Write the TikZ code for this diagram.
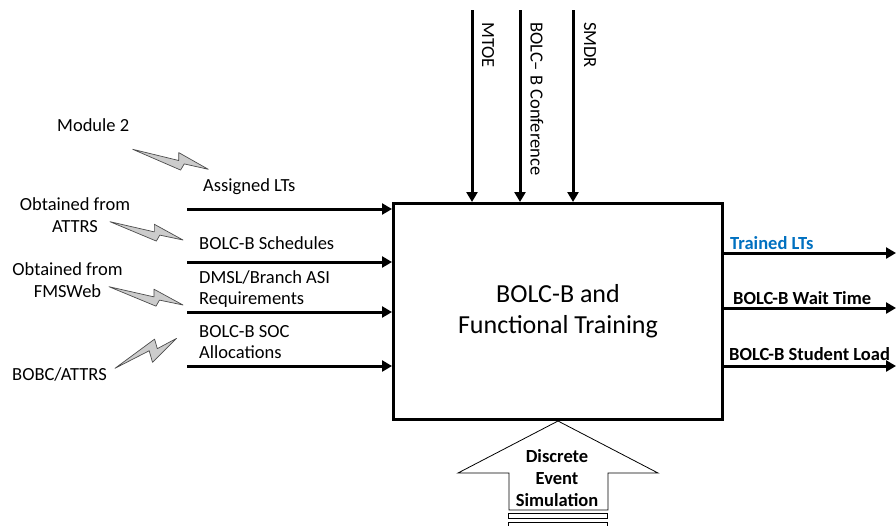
\documentclass[tikz,border=0pt]{standalone}
\usepackage{fontspec}
\setmainfont{Carlito}
\usetikzlibrary{arrows.meta,calc}
\definecolor{outblue}{HTML}{0070C0}

% zig-zag "lightning" link drawn from #1 to #2 with pic #3
\newcommand\zapline[3]{%
  \path let \p1=($(#2)-(#1)$), \n1={atan2(\y1,\x1)}, \n2={veclen(\x1,\y1)}
    in (#1) pic[rotate=\n1, scale=\n2] {#3};}

\begin{document}
\begin{tikzpicture}[x=1pt, y=1pt,
  lbl/.style={inner sep=0pt, font=\fontsize{18.5}{21.5}\selectfont, align=left},
  clbl/.style={lbl, align=center},
  blbl/.style={inner sep=0pt, font=\fontsize{18.5}{22}\selectfont\bfseries, align=center},
  arr/.style={line width=3pt, -{Triangle[length=10pt,width=11pt]}},
  zapfill/.style={fill=gray!40, draw=black!70, line width=0.7pt, line join=round},
  pics/zapA/.style={code={
    \filldraw[zapfill] (0,0) -- (0.66,-0.10) -- (0.685,-0.012) -- (1,0)
      -- (0.58,0.11) -- (0.605,0.012) -- cycle;}},
  pics/zapB/.style={code={
    \filldraw[zapfill] (0,0) -- (0.705,0.13) -- (0.68,-0.012) -- (1,0)
      -- (0.53,-0.16) -- (0.56,0.012) -- cycle;}},
  procbox/.style={draw, line width=3pt, minimum width=329pt, minimum height=216pt,
    inner sep=0pt, font=\fontsize{26}{31}\selectfont, align=center},
  mech/.style={draw, line width=0.8pt, line join=miter},
]
\useasboundingbox (0,0) rectangle (896,-525);

% main activity box
\node[procbox] (box) at (558,-311.5) {BOLC-B and\\Functional Training};

% controls (top)
\coordinate (c1) at (472,-10);
\coordinate (c2) at (520,-10);
\coordinate (c3) at (573,-10);
\draw[arr] (c1) -- (c1 |- box.north);
\draw[arr] (c2) -- (c2 |- box.north);
\draw[arr] (c3) -- (c3 |- box.north);
\node[lbl, rotate=-90, anchor=west] (lc1) at (488,-22) {MTOE};
\node[lbl, rotate=-90, anchor=west] (lc2) at (537,-22) {BOLC– B Conference};
\node[lbl, rotate=-90, anchor=west] (lc3) at (590,-22) {SMDR};

% inputs (left)
\coordinate (i1) at (187,-209);
\coordinate (i2) at (187,-262);
\coordinate (i3) at (187,-312);
\coordinate (i4) at (187,-366);
\draw[arr] (i1) -- (i1 -| box.west);
\draw[arr] (i2) -- (i2 -| box.west);
\draw[arr] (i3) -- (i3 -| box.west);
\draw[arr] (i4) -- (i4 -| box.west);
\node[lbl, anchor=west] (li1) at (203,-187) {Assigned LTs};
\node[lbl, anchor=west] (li2) at (199,-243) {BOLC-B Schedules};
\node[lbl, anchor=west] (li3) at (199,-289) {DMSL/Branch ASI\\Requirements};
\node[lbl, anchor=west] (li4) at (199,-342) {BOLC-B SOC\\Allocations};

% data sources
\node[lbl, anchor=west] (s1) at (57,-125) {Module 2};
\node[clbl] (s2) at (75,-215) {Obtained from\\ATTRS};
\node[clbl] (s3) at (67.5,-280) {Obtained from\\FMSWeb};
\node[lbl, anchor=west] (s4) at (12,-374) {BOBC/ATTRS};

\coordinate (z1a) at (132.7,-149.3); \coordinate (z1b) at (208.3,-169.3);
\coordinate (z2a) at (110,-221.7);   \coordinate (z2b) at (183,-240);
\coordinate (z3a) at (109,-286.7);   \coordinate (z3b) at (183,-305);
\coordinate (z4a) at (115,-368.3);   \coordinate (z4b) at (176.7,-338.3);
\zapline{z1a}{z1b}{zapA}
\zapline{z2a}{z2b}{zapA}
\zapline{z3a}{z3b}{zapA}
\zapline{z4a}{z4b}{zapB}

% outputs (right)
\coordinate (o1) at (896,-253);
\coordinate (o2) at (896,-308);
\coordinate (o3) at (896,-366);
\draw[arr] (o1 -| box.east) -- (o1);
\draw[arr] (o2 -| box.east) -- (o2);
\draw[arr] (o3 -| box.east) -- (o3);
\node[blbl, anchor=west, text=outblue] (lo1) at (730,-243) {Trained LTs};
\node[blbl, anchor=west] (lo2) at (733,-298) {BOLC-B Wait Time};
\node[blbl, anchor=west] (lo3) at (729,-354) {BOLC-B Student Load};

% mechanism (bottom)
\draw[mech] (box.south) -- ++(100,-52) -- ++(-50,0) -- ++(0,-37) -- ++(-99,0)
  -- ++(0,37) -- ++(-51,0) -- cycle;
\node[blbl] (mtext) at (557,-478) {Discrete\\Event\\Simulation};
\draw[mech] (508,-513) rectangle (607,-518);
\draw[mech] (508,-522) rectangle (607,-530);
\end{tikzpicture}
\end{document}
